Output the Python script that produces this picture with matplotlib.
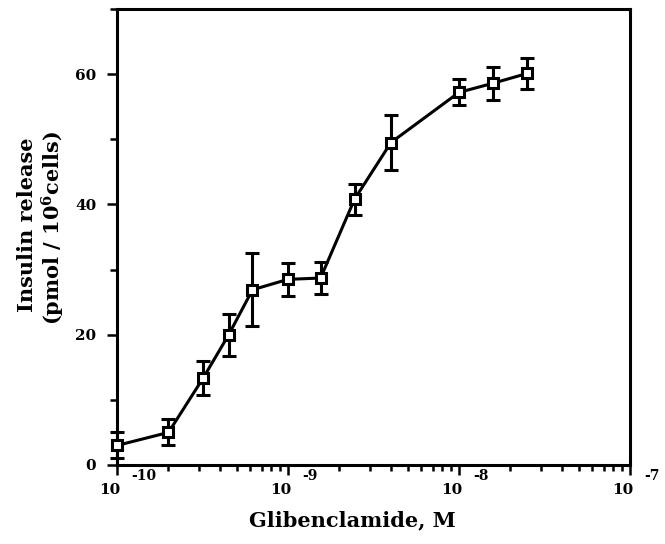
import matplotlib
matplotlib.use('Agg')
import matplotlib.pyplot as plt
import matplotlib.transforms as mtransforms
import numpy as np

# glibenclamide dose (M) and insulin release (pmol / 10^6 cells)
dose = [1e-10, 2e-10, 3.2e-10, 4.5e-10, 6.2e-10, 1e-9, 1.55e-9, 2.45e-9,
        4e-9, 1e-8, 1.58e-8, 2.5e-8]
insulin = [3.0, 5.0, 13.4, 20.0, 26.9, 28.5, 28.7, 40.8, 49.5, 57.2, 58.6, 60.1]
err = [2.0, 2.0, 2.6, 3.2, 5.6, 2.5, 2.4, 2.4, 4.2, 2.0, 2.5, 2.4]

decades = [1e-10, 1e-9, 1e-8, 1e-7]
dec_exp = ['-10', '-9', '-8', '-7']
yticks = [0, 20, 40, 60]

plt.rcParams['font.family'] = 'DejaVu Serif'
plt.rcParams['font.weight'] = 'bold'
plt.rcParams['mathtext.fontset'] = 'dejavuserif'

fig = plt.figure(figsize=(6.65, 5.44), dpi=100)
ax = fig.add_axes([117/665, 79/544, 513/665, 456/544])

line, caps, bars = ax.errorbar(dose, insulin, yerr=err, color='black', lw=2.2,
                               elinewidth=2.2, capsize=5, capthick=2.2,
                               marker='s', ms=6.5, mfc='white', mec='black',
                               mew=2.2, zorder=3)
line.set_clip_on(False)
for c in caps:
    c.set_clip_on(False)
for b in bars:
    b.set_clip_on(False)

ax.set_xscale('log')
ax.set_xlim(1e-10, 1e-7)
ax.set_ylim(0, 70)

for s in ax.spines.values():
    s.set_linewidth(2.2)

ax.set_yticks(yticks)
ax.set_yticks([10, 30, 50, 70], minor=True)
ax.tick_params(axis='y', which='major', direction='out', length=7, width=1.8,
               labelsize=11, pad=8)
ax.tick_params(axis='y', which='minor', direction='out', length=5, width=1.8)
for lab in ax.get_yticklabels():
    lab.set_fontweight('bold')

ax.set_xticks(decades)
ax.set_xticklabels(['' for d in decades])
ax.tick_params(axis='x', which='major', direction='out', length=7, width=1.8)
ax.tick_params(axis='x', which='minor', direction='out', length=4, width=1.8)

trans = mtransforms.blended_transform_factory(ax.transData, ax.transAxes)
for d, e in zip(decades, dec_exp):
    t1 = trans + mtransforms.ScaledTranslation(3/100, -25/100, fig.dpi_scale_trans)
    ax.text(d, 0, '10', transform=t1, ha='right', va='center',
            fontsize=11, fontweight='bold')
    t2 = trans + mtransforms.ScaledTranslation(14/100, -11/100, fig.dpi_scale_trans)
    ax.text(d, 0, e, transform=t2, ha='left', va='center',
            fontsize=10, fontweight='bold')

fig.text(352/665, 1 - 520/544, 'Glibenclamide, M', ha='center', va='center',
         fontsize=15, fontweight='heavy')
fig.text(27/665, 1 - 225/544, 'Insulin release', rotation=90, ha='center',
         va='center', fontsize=15, fontweight='heavy')
fig.text(53/665, 1 - 228/544, '(pmol / 10$^{\\mathbf{6}}$cells)', rotation=90,
         ha='center', va='center', fontsize=15, fontweight='heavy')

fig.savefig('out.png', dpi=100)
